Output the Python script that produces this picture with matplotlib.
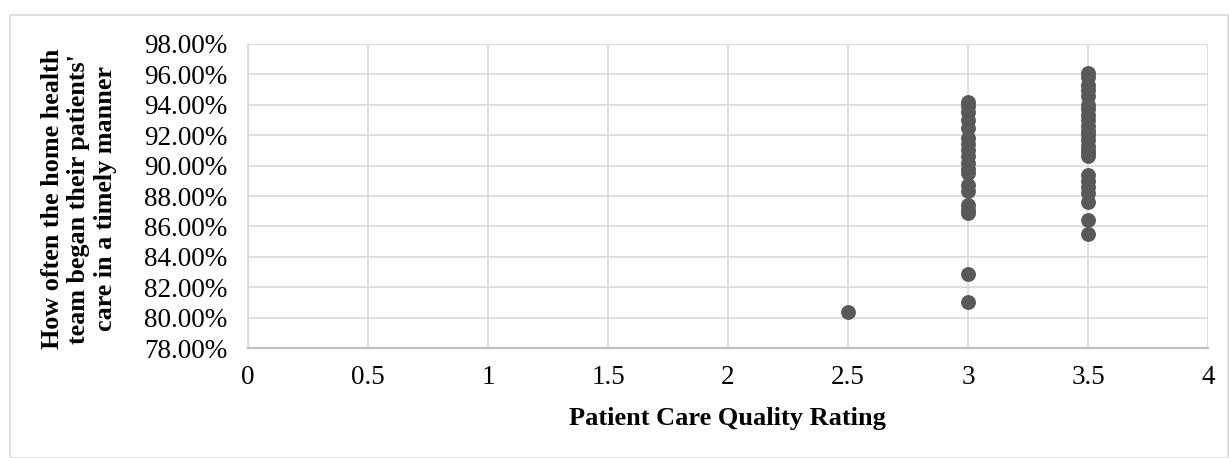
import matplotlib.pyplot as plt
from matplotlib.patches import Rectangle
from matplotlib.ticker import FuncFormatter

# ---------- Data ----------
rating_25 = [2.5]
pct_25 = [80.4]

rating_30 = [3.0] * 19
pct_30 = [94.2, 93.9, 93.5, 93.0, 92.5, 91.8, 91.4, 91.0, 90.6, 90.2,
          89.8, 89.5, 88.7, 88.3, 87.4, 87.1, 86.9, 82.9, 81.0]

rating_35 = [3.5] * 24
pct_35 = [96.1, 95.8, 95.3, 95.0, 94.6, 94.0, 93.7, 93.3, 93.0, 92.6,
          92.3, 92.0, 91.7, 91.3, 91.0, 90.6, 89.4, 89.0, 88.6, 88.2,
          87.6, 86.4, 85.5, 90.8]

x_ticks = [0, 0.5, 1, 1.5, 2, 2.5, 3, 3.5, 4]
y_ticks = [78, 80, 82, 84, 86, 88, 90, 92, 94, 96, 98]


def main():
    plt.rcParams["font.family"] = ["Liberation Serif", "DejaVu Serif"]

    fig = plt.figure(figsize=(12.29, 4.58), dpi=100)
    ax = fig.add_axes([0.2018, 0.240, 0.7812, 0.664])

    # light border round the whole chart
    fig.patches.append(Rectangle((0.008, 0.0), 0.991, 0.968, transform=fig.transFigure,
                                 fill=False, edgecolor="#d9d9d9", linewidth=1.2))

    dot = "#595959"
    for xs, ys in [(rating_25, pct_25), (rating_30, pct_30), (rating_35, pct_35)]:
        ax.scatter(xs, ys, s=115, color=dot, zorder=3, linewidths=0)

    ax.set_xlim(0, 4)
    ax.set_ylim(78, 98)
    ax.set_xticks(x_ticks)
    ax.set_yticks(y_ticks)
    ax.xaxis.set_major_formatter(FuncFormatter(lambda v, p: f"{v:g}"))
    ax.yaxis.set_major_formatter(FuncFormatter(lambda v, p: f"{v:.2f}%"))
    ax.tick_params(length=0, labelsize=19.5, colors="black")
    ax.tick_params(axis="x", pad=12)
    ax.tick_params(axis="y", pad=15)

    ax.grid(True, color="#d9d9d9", linewidth=1.2)
    ax.set_axisbelow(True)
    for side in ["top", "right"]:
        ax.spines[side].set_visible(False)
    ax.spines["left"].set_color("#d9d9d9")
    ax.spines["left"].set_linewidth(1.2)
    ax.spines["bottom"].set_color("#bfbfbf")
    ax.spines["bottom"].set_linewidth(1.5)

    fig.text(727 / 1229, 1 - 418 / 458, "Patient Care Quality Rating",
             fontsize=19, fontweight="bold", ha="center", va="center")
    fig.text(79 / 1229, 1 - 199 / 458,
             "How often the home health\nteam began their patients'\ncare in a timely manner",
             fontsize=18.8, fontweight="bold", rotation=90, ha="center", va="center",
             multialignment="center", linespacing=1.2)

    fig.savefig("out.png", dpi=100)
    plt.close(fig)


if __name__ == "__main__":
    main()
